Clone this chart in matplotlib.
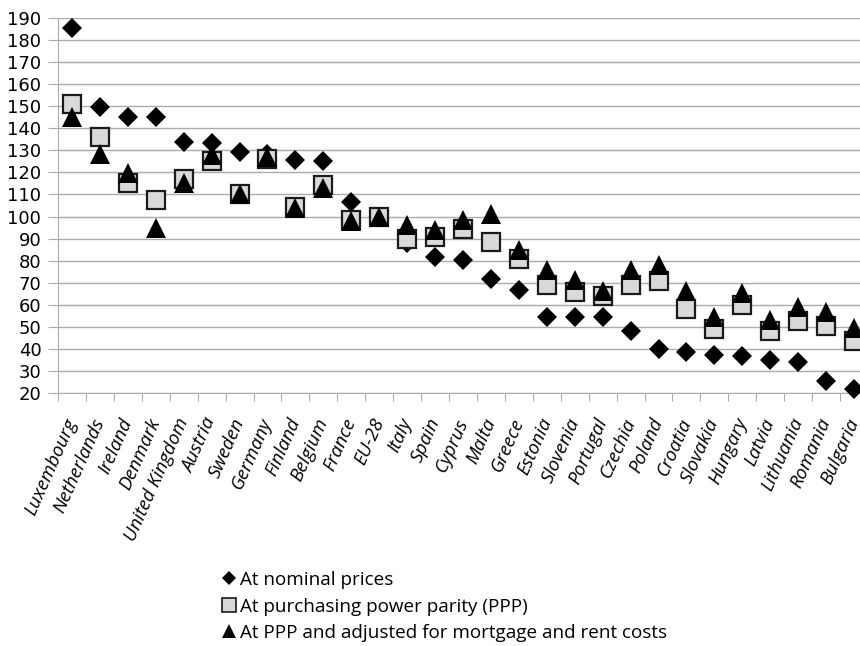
import matplotlib
matplotlib.use("Agg")
import matplotlib.pyplot as plt
from matplotlib.lines import Line2D

countries = ["Luxembourg", "Netherlands", "Ireland", "Denmark", "United Kingdom", "Austria",
             "Sweden", "Germany", "Finland", "Belgium", "France", "EU-28", "Italy", "Spain",
             "Cyprus", "Malta", "Greece", "Estonia", "Slovenia", "Portugal", "Czechia", "Poland",
             "Croatia", "Slovakia", "Hungary", "Latvia", "Lithuania", "Romania", "Bulgaria"]

nominal = [185.5, 149.5, 145, 145, 134, 133.5, 129.4, 128.5, 125.5, 125, 106.5, 100, 88,
           81.8, 80.3, 71.5, 66.7, 54.5, 54.2, 54.2, 48, 39.7, 38.6, 37.1, 36.7, 34.9, 34.1,
           25.5, 21.5]
ppp = [151, 136, 115, 107.7, 117, 125, 110, 126.3, 104.5, 114.3, 98.5, 100, 89.7, 90.6,
       94.4, 88.6, 80.6, 69, 65.5, 64.1, 69, 70.5, 58, 49, 59.9, 48, 52.7, 50.3, 43.6]
ppp_adj = [145, 128.3, 119.6, 94.7, 115, 128, 110, 127, 104, 113, 98, 100, 96, 94, 98.5,
           101, 85, 75.8, 71.2, 66, 75.8, 78, 66, 54.5, 65.2, 53, 59, 56.8, 49.3]

legend_labels = ["At nominal prices", "At purchasing power parity (PPP)",
                 "At PPP and adjusted for mortgage and rent costs"]

fig = plt.figure(figsize=(8.6, 6.46), dpi=100)
ax = fig.add_axes([58 / 860, 1 - 392.7 / 646, 810 / 860, (392.7 - 18.3) / 646])

x = list(range(len(countries)))
ax.plot(x, nominal, linestyle="none", marker="D", markersize=10, color="black",
        markeredgewidth=0, zorder=3, clip_on=False)
ax.plot(x, ppp, linestyle="none", marker="s", markersize=12.5, markerfacecolor="#d9d9d9",
        markeredgecolor="#1a1a1a", markeredgewidth=1.6, zorder=4, clip_on=False)
ax.plot(x, ppp_adj, linestyle="none", marker="^", markersize=14, color="black",
        markeredgewidth=0, zorder=5, clip_on=False)

ax.set_xlim(-0.5, len(countries) - 0.5)
ax.set_ylim(20, 190)
ax.set_yticks(range(20, 191, 10))
ax.set_yticklabels([str(v) for v in range(20, 191, 10)], fontsize=13, family="DejaVu Sans")
ax.yaxis.grid(True, color="#ababab", linewidth=1.0)
ax.set_axisbelow(True)
ax.tick_params(axis="y", length=7, color="#ababab", pad=5)

ax.set_xticks([i - 0.5 for i in range(len(countries) + 1)], minor=False)
ax.set_xticklabels([])
ax.set_xticks(x, minor=True)
ax.set_xticklabels(countries, minor=True, rotation=66, ha="right", va="center",
                   rotation_mode="anchor", fontsize=13.5, fontstyle="italic", family="Open Sans")
ax.tick_params(axis="x", which="major", length=6, color="#ababab")
ax.tick_params(axis="x", which="minor", length=0, pad=19)

for side in ["top", "right"]:
    ax.spines[side].set_visible(False)
ax.spines["left"].set_color("#ababab")
ax.spines["bottom"].set_color("#ababab")

handles = [
    Line2D([], [], linestyle="none", marker="D", markersize=7.5, color="black", markeredgewidth=0),
    Line2D([], [], linestyle="none", marker="s", markersize=10, markerfacecolor="#d9d9d9",
           markeredgecolor="#1a1a1a", markeredgewidth=1.2),
    Line2D([], [], linestyle="none", marker="^", markersize=10.5, color="black", markeredgewidth=0),
]
fig.legend(handles, legend_labels, loc="upper left", bbox_to_anchor=(205 / 860, 1 - 554 / 646),
           frameon=False, handlelength=0.7, handletextpad=0.25, labelspacing=0.45,
           prop={"family": "Open Sans", "size": 13.6})

fig.savefig("out.png", dpi=100)
